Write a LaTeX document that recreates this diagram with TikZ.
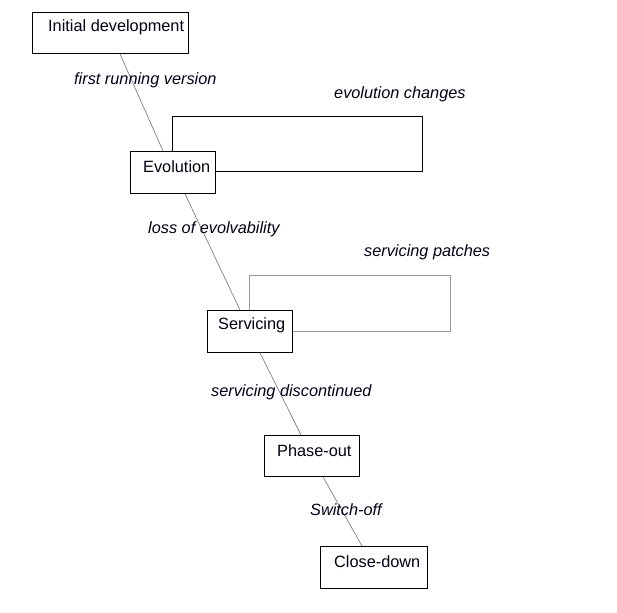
\documentclass[tikz,border=0pt]{standalone}
\usepackage{fontspec}
\setmainfont{Liberation Sans}
\usetikzlibrary{calc}
\begin{document}
\begin{tikzpicture}[x=1pt,y=-1pt,
  box/.style={draw=black,line width=0.9pt,inner sep=0pt,anchor=north west},
  txt/.style={anchor=west,inner sep=0pt,font=\fontsize{16.3}{19}\selectfont,text=black!92!blue},
  lab/.style={anchor=west,inner sep=0pt,font=\fontsize{16.3}{19}\selectfont\itshape,text=black!90!blue},
  conn/.style={draw=gray,line width=0.7pt},
  loopA/.style={draw=black,line width=0.9pt},
  loopB/.style={draw=gray!80,line width=0.9pt}]
\useasboundingbox (0,0) rectangle (617,612);
% boxes
\node[box,minimum width=156pt,minimum height=41pt] (init) at (32,12) {};
\node[box,minimum width=85pt,minimum height=42pt] (evo) at (130,151) {};
\node[box,minimum width=85pt,minimum height=42pt] (serv) at (207,310) {};
\node[box,minimum width=95pt,minimum height=41pt] (phase) at (264,435) {};
\node[box,minimum width=107pt,minimum height=42pt] (close) at (320,546) {};
% box texts
\node[txt] (tinit) at (48,27.5) {Initial development};
\node[txt] (tevo) at (143,166.5) {Evolution};
\node[txt] (tserv) at (218,325.5) {Servicing};
\node[txt] (tphase) at (277,450.5) {Phase-out};
\node[txt] (tclose) at (334,561.5) {Close-down};
% connectors
\draw[conn] ([xshift=88pt]init.south west) -- ([xshift=33pt]evo.north west);
\draw[conn] ([xshift=55pt]evo.south west) -- ([xshift=33pt]serv.north west);
\draw[conn] ([xshift=53pt]serv.south west) -- ([xshift=37pt]phase.north west);
\draw[conn] ([xshift=59pt]phase.south west) -- ([xshift=42pt]close.north west);
% self loops
\coordinate (ea) at (172,116);
\coordinate (eb) at (422,116);
\coordinate (ec) at (422,171);
\draw[loopA] (ea |- evo.north) -- (ea) -- (eb) -- (ec) -- (ec -| evo.east);
\coordinate (sa) at (249,275);
\coordinate (sb) at (450,275);
\coordinate (sc) at (450,331);
\draw[loopB] (sa |- serv.north) -- (sa) -- (sb) -- (sc) -- (sc -| serv.east);
% labels
\node[lab] (l1) at (74,80.5) {first running version};
\node[lab] (l2) at (334,94.5) {evolution changes};
\node[lab] (l3) at (148,229.5) {loss of evolvability};
\node[lab] (l4) at (364,252.5) {servicing patches};
\node[lab] (l5) at (211,392.5) {servicing discontinued};
\node[lab] (l6) at (310,509.5) {Switch-off};
\end{tikzpicture}
\end{document}
